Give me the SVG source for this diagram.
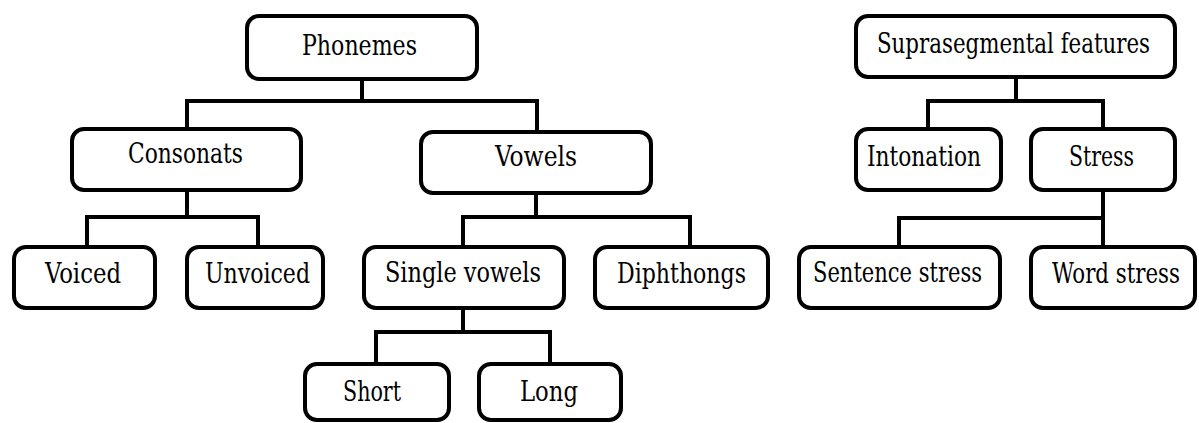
<svg xmlns="http://www.w3.org/2000/svg" width="1199" height="423" viewBox="0 0 1199 423">
  <style>
    .box { fill: #ffffff; stroke: #000000; stroke-width: 4; }
    .lbl { font-family: "DejaVu Serif Condensed", "DejaVu Serif", "Liberation Serif", serif; font-size: 28px; fill: #000000; text-anchor: middle; }
    .wire { fill: none; stroke: #000000; stroke-width: 4; stroke-linecap: square; stroke-linejoin: miter; }
  </style>
  <rect width="1199" height="423" fill="#ffffff"/>

  <!-- tree connectors -->
  <g id="connectors" class="wire">
    <path d="M362 80 V101 M187 101 H537 M187 101 V129 M537 101 V132"/>
    <path d="M187 192 V217 M87 217 H258 M87 217 V247 M258 217 V247"/>
    <path d="M536 195 V217 M463 217 H690 M463 217 V247 M690 217 V247"/>
    <path d="M463 310 V332 M376 332 H550 M376 332 V364 M550 332 V364"/>
    <path d="M1016 79 V101 M928 101 H1103 M928 101 V129 M1103 101 V129"/>
    <path d="M1103 192 V247 M899 218 H1103 M899 218 V247"/>
  </g>

  <!-- segmental tree -->
  <g id="phonemes">
    <rect class="box" x="247" y="16" width="230" height="63" rx="12"/>
    <text class="lbl" x="359.5" y="55" textLength="115" lengthAdjust="spacingAndGlyphs">Phonemes</text>
  </g>
  <g id="consonats">
    <rect class="box" x="72" y="129" width="229" height="61" rx="12"/>
    <text class="lbl" x="185.5" y="163" textLength="115" lengthAdjust="spacingAndGlyphs">Consonats</text>
  </g>
  <g id="vowels">
    <rect class="box" x="421" y="132" width="230" height="61" rx="12"/>
    <text class="lbl" x="536" y="166" textLength="82" lengthAdjust="spacingAndGlyphs">Vowels</text>
  </g>
  <g id="voiced">
    <rect class="box" x="14" y="247" width="141" height="61" rx="12"/>
    <text class="lbl" x="83" y="283" textLength="76" lengthAdjust="spacingAndGlyphs">Voiced</text>
  </g>
  <g id="unvoiced">
    <rect class="box" x="187" y="247" width="136" height="61" rx="12"/>
    <text class="lbl" x="257.5" y="283" textLength="105" lengthAdjust="spacingAndGlyphs">Unvoiced</text>
  </g>
  <g id="single-vowels">
    <rect class="box" x="364" y="247" width="200" height="61" rx="12"/>
    <text class="lbl" x="463" y="282" textLength="156" lengthAdjust="spacingAndGlyphs">Single vowels</text>
  </g>
  <g id="diphthongs">
    <rect class="box" x="595" y="247" width="173" height="61" rx="12"/>
    <text class="lbl" x="681.5" y="283" textLength="129" lengthAdjust="spacingAndGlyphs">Diphthongs</text>
  </g>
  <g id="short">
    <rect class="box" x="305" y="364" width="144" height="56" rx="12"/>
    <text class="lbl" x="372" y="401" textLength="58" lengthAdjust="spacingAndGlyphs">Short</text>
  </g>
  <g id="long">
    <rect class="box" x="479" y="364" width="142" height="56" rx="12"/>
    <text class="lbl" x="549" y="401" textLength="58" lengthAdjust="spacingAndGlyphs">Long</text>
  </g>

  <!-- suprasegmental tree -->
  <g id="suprasegmental">
    <rect class="box" x="856" y="16" width="319" height="61" rx="12"/>
    <text class="lbl" x="1013.5" y="53" textLength="273" lengthAdjust="spacingAndGlyphs">Suprasegmental features</text>
  </g>
  <g id="intonation">
    <rect class="box" x="856" y="129" width="145" height="61" rx="12"/>
    <text class="lbl" x="924" y="166" textLength="114" lengthAdjust="spacingAndGlyphs">Intonation</text>
  </g>
  <g id="stress">
    <rect class="box" x="1031" y="129" width="144" height="61" rx="12"/>
    <text class="lbl" x="1101.5" y="166" textLength="65" lengthAdjust="spacingAndGlyphs">Stress</text>
  </g>
  <g id="sentence-stress">
    <rect class="box" x="799" y="247" width="201" height="61" rx="12"/>
    <text class="lbl" x="897.5" y="282" textLength="169" lengthAdjust="spacingAndGlyphs">Sentence stress</text>
  </g>
  <g id="word-stress">
    <rect class="box" x="1031" y="247" width="164" height="61" rx="12"/>
    <text class="lbl" x="1116" y="283" textLength="128" lengthAdjust="spacingAndGlyphs">Word stress</text>
  </g>
</svg>
